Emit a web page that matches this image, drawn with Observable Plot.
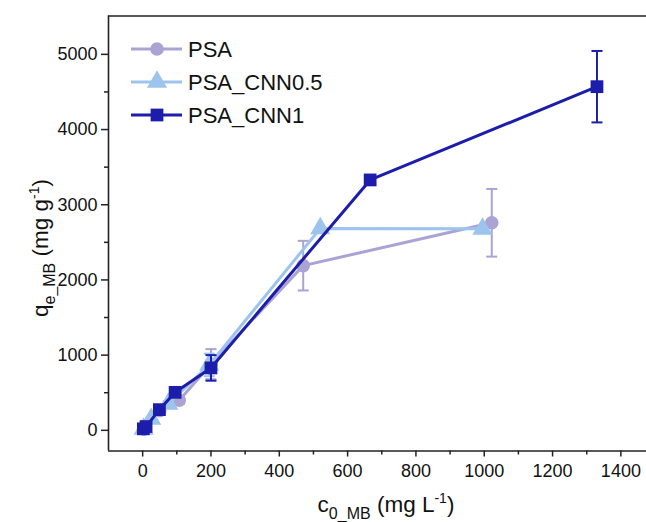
<!DOCTYPE html>
<html>
<head>
<meta charset="utf-8">
<script src="https://cdn.jsdelivr.net/npm/d3@7"></script>
<script src="https://cdn.jsdelivr.net/npm/@observablehq/plot@0.6"></script>
<style>
  html, body { margin: 0; padding: 0; background: #fff; }
  #chart { position: relative; width: 646px; height: 522px; }
  svg { font-family: "Liberation Sans", Arial, sans-serif; }
</style>
</head>
<body>
<div id="chart"></div>
<script>
// ---- data ----
const seriesNames = ["PSA", "PSA_CNN0.5", "PSA_CNN1"];
const seriesColors = ["#aaa3d4", "#9dc4ec", "#1d1dab"];
const seriesSymbols = ["circle", "triangle", "square"];
const seriesR = [6.8, 7.5, 7.2];

const psaX   = [3, 50, 107, 200, 470, 1022];
const psaY   = [15, 260, 400, 880, 2190, 2760];
const psaErr = [10, 30, 50, 200, 330, 450];

const cnn05X   = [3, 25, 75, 195, 520, 995];
const cnn05Y   = [20, 150, 350, 870, 2685, 2680];
const cnn05Err = [10, 20, 40, 150, 0, 0];

const cnn1X   = [2, 10, 49, 95, 200, 666, 1330];
const cnn1Y   = [20, 50, 275, 505, 830, 3330, 4570];
const cnn1Err = [10, 15, 30, 60, 170, 0, 475];

const xMajor = [0, 200, 400, 600, 800, 1000, 1200, 1400];
const xMinor = [100, 300, 500, 700, 900, 1100, 1300];
const yMajor = [0, 1000, 2000, 3000, 4000, 5000];
const yMinor = [500, 1500, 2500, 3500, 4500];

const xDomain = [-100, 1475];
const yDomain = [-275, 5510];

// ---- build table ----
const rows = [];
[[psaX, psaY, psaErr], [cnn05X, cnn05Y, cnn05Err], [cnn1X, cnn1Y, cnn1Err]].forEach(([xs, ys, es], i) => {
  xs.forEach((x, j) => rows.push({series: seriesNames[i], x, y: ys[j], err: es[j]}));
});
const errRows = rows.filter(d => d.err > 0);

const capSymbol = {
  draw(context, size) {
    const h = Math.sqrt(size / Math.PI);
    context.moveTo(-h, 0);
    context.lineTo(h, 0);
  }
};

const fontSize = 18;
const axisColor = "#222";
const textColor = "#111";
const fmt = d => String(d);

const marks = [];
seriesNames.forEach((name, i) => {
  const data = rows.filter(d => d.series === name);
  const errs = errRows.filter(d => d.series === name);
  marks.push(
    Plot.line(data, {x: "x", y: "y", stroke: seriesColors[i], strokeWidth: 3}),
    Plot.ruleX(errs, {x: "x", y1: d => d.y - d.err, y2: d => d.y + d.err, stroke: seriesColors[i], strokeWidth: 2}),
    Plot.dot(errs, {x: "x", y: d => d.y - d.err, symbol: capSymbol, r: 5.5, stroke: seriesColors[i], strokeWidth: 2, fill: "none"}),
    Plot.dot(errs, {x: "x", y: d => d.y + d.err, symbol: capSymbol, r: 5.5, stroke: seriesColors[i], strokeWidth: 2, fill: "none"}),
    Plot.dot(data, {x: "x", y: "y", symbol: seriesSymbols[i], r: seriesR[i], fill: seriesColors[i], stroke: "none"})
  );
});

const chart = Plot.plot({
  width: 646,
  height: 522,
  marginLeft: 108,
  marginRight: 0,
  marginTop: 15.5,
  marginBottom: 71.5,
  style: {fontFamily: '"Liberation Sans", Arial, sans-serif', fontSize: fontSize + "px", color: textColor, background: "#fff"},
  x: {domain: xDomain},
  y: {domain: yDomain},
  marks: [
    ...marks,
    Plot.ruleX([xDomain[0]], {stroke: axisColor, strokeWidth: 1.6}),
    Plot.ruleY([yDomain[0]], {stroke: axisColor, strokeWidth: 1.6}),
    Plot.ruleY([yDomain[1]], {stroke: axisColor, strokeWidth: 1.6}),
    Plot.axisX({ticks: xMajor, tickSize: 6, tickPadding: 7, tickFormat: fmt, stroke: axisColor, strokeWidth: 1.5, fontSize, label: null}),
    Plot.axisX({ticks: xMinor, tickSize: 4, tickFormat: () => "", stroke: axisColor, strokeWidth: 1.5, label: null}),
    Plot.axisY({ticks: yMajor, tickSize: 7, tickPadding: 4, tickFormat: fmt, stroke: axisColor, strokeWidth: 1.5, fontSize, label: null}),
    Plot.axisY({ticks: yMinor, tickSize: 4, tickFormat: () => "", stroke: axisColor, strokeWidth: 1.5, label: null})
  ]
});

document.getElementById("chart").appendChild(chart);

// ---- axis titles with sub/superscripts ----
const svg = d3.select(chart);
const lab = svg.append("g").attr("fill", textColor).attr("font-size", 22.5);

const yl = lab.append("text")
  .attr("transform", "translate(48,248) rotate(-90)")
  .attr("text-anchor", "middle");
yl.append("tspan").text("q");
yl.append("tspan").attr("font-size", 16).attr("dy", 7).text("e_MB");
yl.append("tspan").attr("dy", -7).text(" (mg g");
yl.append("tspan").attr("font-size", 14).attr("dy", -9).text("-1");
yl.append("tspan").attr("dy", 9).text(")");

const xl = lab.append("text")
  .attr("x", 386).attr("y", 512)
  .attr("text-anchor", "middle");
xl.append("tspan").text("c");
xl.append("tspan").attr("font-size", 16).attr("dy", 7).text("0_MB");
xl.append("tspan").attr("dy", -7).text(" (mg L");
xl.append("tspan").attr("font-size", 14).attr("dy", -9).text("-1");
xl.append("tspan").attr("dy", 9).text(")");

// ---- legend ----
const leg = svg.append("g");
seriesNames.forEach((name, i) => {
  const yy = 49 + i * 33;
  const g = leg.append("g").attr("transform", `translate(0,${yy})`);
  g.append("line").attr("x1", 131).attr("x2", 182).attr("y1", 0).attr("y2", 0)
    .attr("stroke", seriesColors[i]).attr("stroke-width", 3);
  const symType = [d3.symbolCircle, d3.symbolTriangle, d3.symbolSquare][i];
  g.append("path").attr("transform", "translate(157,0)")
    .attr("d", d3.symbol(symType, Math.PI * seriesR[i] * seriesR[i])())
    .attr("fill", seriesColors[i]);
  g.append("text").attr("x", 188).attr("y", 0).attr("dy", "0.36em")
    .attr("text-anchor", "start")
    .attr("font-size", 22).attr("fill", textColor).text(name);
});
</script>
</body>
</html>
